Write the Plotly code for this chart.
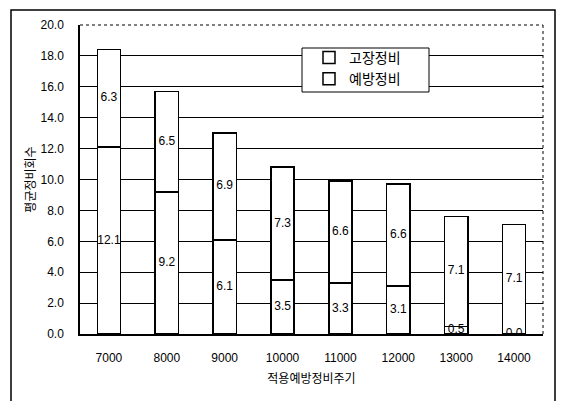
import plotly.graph_objects as go

categories = ["7000", "8000", "9000", "10000", "11000", "12000", "13000", "14000"]
preventive = [12.1, 9.2, 6.1, 3.5, 3.3, 3.1, 0.5, 0.0]   # 예방정비 (bottom)
failure = [6.3, 6.5, 6.9, 7.3, 6.6, 6.6, 7.1, 7.1]       # 고장정비 (top)
y_ticks = [0, 2, 4, 6, 8, 10, 12, 14, 16, 18, 20]
y_ticklabels = [f"{v:.1f}" for v in y_ticks]

NUM_FONT = "Liberation Sans Narrow, Liberation Sans, Arial, sans-serif"
KR_FONT = "Noto Sans CJK KR, sans-serif"

bar_style = dict(color="white", line=dict(color="black", width=1.5))

fig = go.Figure()
fig.add_trace(go.Bar(name="예방정비", x=categories, y=preventive, marker=bar_style))
fig.add_trace(go.Bar(name="고장정비", x=categories, y=failure, marker=bar_style))

# segment value labels at the middle of each segment
lab_x = categories + categories
lab_y = [p / 2 for p in preventive] + [p + f / 2 for p, f in zip(preventive, failure)]
lab_t = [f"{v:.1f}" for v in preventive] + [f"{v:.1f}" for v in failure]
fig.add_trace(go.Scatter(
    x=lab_x, y=lab_y, text=lab_t, mode="text", showlegend=False,
    textfont=dict(size=12, color="black", family=NUM_FONT), hoverinfo="skip",
))

PW, PH = 463, 309
fig.update_layout(
    width=561, height=401,
    margin=dict(l=80, r=18, t=25, b=67, autoexpand=False),
    barmode="stack", bargap=0.6,
    plot_bgcolor="white", paper_bgcolor="white",
    showlegend=True,
    legend=dict(
        x=(309 - 80) / PW, y=(334 - 42) / PH, xanchor="left", yanchor="top",
        traceorder="reversed", bgcolor="rgba(0,0,0,0)", borderwidth=0,
        font=dict(size=14, family=KR_FONT, color="black"),
        itemwidth=30, tracegroupgap=0,
    ),
    xaxis=dict(
        showline=True, linecolor="black", linewidth=1.5,
        ticks="", automargin=False,
        tickfont=dict(size=12, family=NUM_FONT, color="black"),
        ticklabelstandoff=12,
        title=dict(text="적용예방정비주기", font=dict(size=12, family=KR_FONT, color="black"), standoff=10),
    ),
    yaxis=dict(
        range=[0, 20], tickvals=y_ticks, ticktext=y_ticklabels,
        showgrid=True, gridcolor="black", gridwidth=1,
        showline=True, linecolor="black", linewidth=1.5,
        zeroline=False, ticks="", automargin=False,
        tickfont=dict(size=12, family=NUM_FONT, color="black"),
        ticklabelstandoff=12,
        title=dict(text="평균정비회수", font=dict(size=12, family=KR_FONT, color="black"), standoff=2),
    ),
    font=dict(family=KR_FONT, color="black"),
    shapes=[
        dict(type="line", xref="paper", yref="paper", x0=0, x1=1, y0=1, y1=1,
             line=dict(color="white", width=2), layer="above"),
        dict(type="line", xref="paper", yref="paper", x0=0, x1=1, y0=1, y1=1,
             line=dict(color="black", width=1, dash="dot"), layer="above"),
        dict(type="line", xref="paper", yref="paper", x0=1, x1=1, y0=0, y1=1,
             line=dict(color="black", width=1, dash="dot"), layer="above"),
        # outer frame
        dict(type="rect", xref="paper", yref="paper",
             x0=(11 - 80) / PW, x1=(555 - 80) / PW, y0=(334 - 420) / PH, y1=(334 - 10) / PH,
             line=dict(color="black", width=1.5), fillcolor="rgba(0,0,0,0)", layer="below"),
        # legend box
        dict(type="rect", xref="paper", yref="paper",
             x0=(302 - 80) / PW, x1=(429 - 80) / PW, y0=(334 - 92) / PH, y1=(334 - 48) / PH,
             line=dict(color="black", width=1), fillcolor="white", layer="above"),
    ],
)

fig.write_html("out.html", config={"displayModeBar": False},
               post_script="document.body.style.margin='0';document.body.style.overflow='hidden';")
